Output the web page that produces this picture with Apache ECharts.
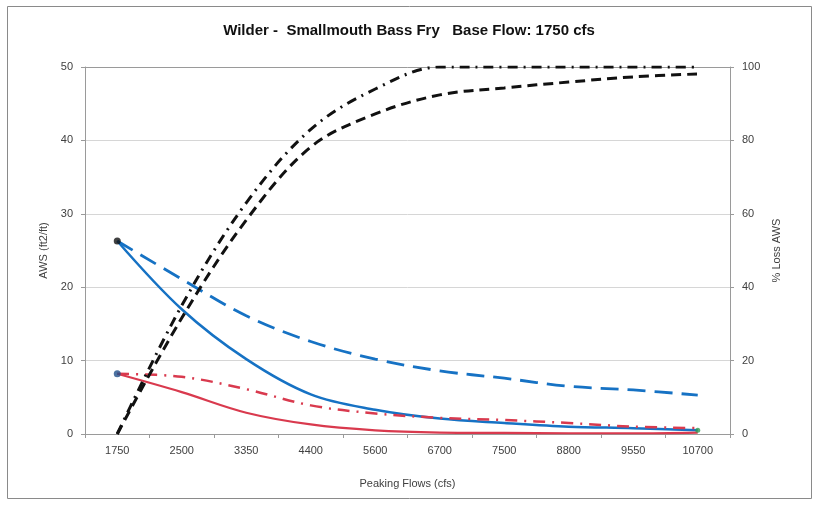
<!DOCTYPE html>
<html>
<head>
<meta charset="utf-8">
<script src="https://cdn.jsdelivr.net/npm/echarts@6/dist/echarts.min.js"></script>
<style>
  html, body { margin: 0; padding: 0; background: #ffffff; }
  #chart { width: 818px; height: 505px; }
</style>
</head>
<body>
<div id="chart"></div>
<script>
// Peaking flow steps (cfs)
const categories = ['1750', '2500', '3350', '4400', '5600', '6700', '7500', '8800', '9550', '10700'];

// AWS (ft2/ft), left axis
const awsBlueSolid  = [26.3, 17.0, 10.2, 5.4, 3.3, 2.1, 1.5, 1.0, 0.8, 0.5];
const awsBlueDashed = [26.3, 21.1, 16.1, 12.6, 10.2, 8.6, 7.6, 6.5, 6.0, 5.3];
const awsRedSolid   = [8.2, 5.7, 2.9, 1.3, 0.5, 0.2, 0.15, 0.1, 0.1, 0.2];
const awsRedDashDot = [8.2, 7.8, 6.1, 3.9, 2.8, 2.2, 1.9, 1.5, 1.0, 0.8];

// % Loss AWS, right axis
const lossDashed  = [0, 31.6, 58.3, 78.2, 87.2, 92.4, 94.3, 95.9, 97.3, 98.1];
const lossDashDot = [0, 35.0, 63.0, 83.0, 94.0, 100, 100, 100, 100, 100];

// Axis ticks
const leftTicks  = { min: 0, max: 50, interval: 10 };
const rightTicks = { min: 0, max: 100, interval: 20 };

const BLUE = '#1672c4';
const RED = '#d93a4e';
const BLACK = '#111111';
const AXIS_GRAY = '#9a9a9a';
const TEXT = '#404040';
const FONT = '"Liberation Sans", Arial, sans-serif';

function line(name, data, color, width, dash, yAxisIndex, z) {
  return {
    name, type: 'line', data, yAxisIndex,
    smooth: 0.35,
    symbol: 'none',
    z,
    lineStyle: { color, width, type: dash, cap: 'butt' },
    emphasis: { disabled: true }
  };
}

const chart = echarts.init(document.getElementById('chart'), null, { renderer: 'canvas' });

chart.setOption({
  backgroundColor: '#ffffff',
  animation: false,
  title: {
    text: 'Wilder -  Smallmouth Bass Fry   Base Flow: 1750 cfs',
    left: 'center',
    top: 18,
    textStyle: { fontFamily: FONT, fontSize: 15, fontWeight: 'bold', color: '#111' }
  },
  grid: { left: 85, right: 88, top: 67, bottom: 71, containLabel: false },
  xAxis: {
    type: 'category',
    data: categories,
    boundaryGap: true,
    name: 'Peaking Flows (cfs)',
    nameLocation: 'middle',
    nameGap: 44,
    nameTextStyle: { fontFamily: FONT, fontSize: 11, color: TEXT },
    axisLine: { lineStyle: { color: AXIS_GRAY, width: 1 } },
    axisTick: { show: true, length: 4, lineStyle: { color: AXIS_GRAY } },
    axisLabel: { fontFamily: FONT, fontSize: 11, color: TEXT, margin: 11 },
    splitLine: { show: false }
  },
  yAxis: [
    {
      type: 'value',
      position: 'left',
      min: leftTicks.min, max: leftTicks.max, interval: leftTicks.interval,
      name: 'AWS (ft2/ft)',
      nameLocation: 'middle',
      nameRotate: 90,
      nameGap: 34,
      nameTextStyle: { fontFamily: FONT, fontSize: 11, color: TEXT },
      axisLine: { show: true, lineStyle: { color: AXIS_GRAY, width: 1 } },
      axisTick: { show: true, length: 4, lineStyle: { color: AXIS_GRAY } },
      axisLabel: { fontFamily: FONT, fontSize: 11, color: TEXT, margin: 12 },
      splitLine: { show: true, lineStyle: { color: '#d6d6d6', width: 1 } }
    },
    {
      type: 'value',
      position: 'right',
      min: rightTicks.min, max: rightTicks.max, interval: rightTicks.interval,
      name: '% Loss AWS',
      nameLocation: 'middle',
      nameRotate: 90,
      nameGap: 40,
      nameTextStyle: { fontFamily: FONT, fontSize: 11, color: TEXT },
      axisLine: { show: true, lineStyle: { color: AXIS_GRAY, width: 1 } },
      axisTick: { show: true, length: 4, lineStyle: { color: AXIS_GRAY } },
      axisLabel: { fontFamily: FONT, fontSize: 11, color: TEXT, margin: 12 },
      splitLine: { show: false }
    }
  ],
  graphic: [
    {
      type: 'rect',
      shape: { x: 7.5, y: 6.5, width: 804, height: 492 },
      style: { fill: 'none', stroke: '#8a8a8a', lineWidth: 1 },
      silent: true, z: -10
    },
    {
      type: 'line',
      shape: { x1: 85, y1: 67.5, x2: 730, y2: 67.5 },
      style: { stroke: AXIS_GRAY, lineWidth: 1 },
      silent: true, z: 1
    }
  ],
  series: [
    line('AWS blue', awsBlueSolid, BLUE, 2.5, 'solid', 0, 2),
    line('AWS blue dashed', awsBlueDashed, BLUE, 2.8, [18, 9], 0, 3),
    line('AWS red', awsRedSolid, RED, 2.2, 'solid', 0, 4),
    line('AWS red dash-dot', awsRedDashDot, RED, 2.5, [12, 7, 2, 7], 0, 5),
    line('% Loss dashed', lossDashed, BLACK, 3, [10, 6], 1, 6),
    line('% Loss dash-dot', lossDashDot, BLACK, 3, [10, 6, 2, 6], 1, 7),
    {
      type: 'scatter', yAxisIndex: 0, z: 8, silent: true,
      symbol: 'circle', symbolSize: 7,
      data: [
        { value: [categories[0], awsBlueSolid[0]], itemStyle: { color: '#111111' } },
        { value: [categories[0], awsRedSolid[0]], itemStyle: { color: '#1f4f8a' } },
        { value: [categories[categories.length - 1], awsBlueSolid[awsBlueSolid.length - 1]], symbolSize: 5, itemStyle: { color: '#2e9a50' } }
      ]
    }
  ]
});
</script>
</body>
</html>
